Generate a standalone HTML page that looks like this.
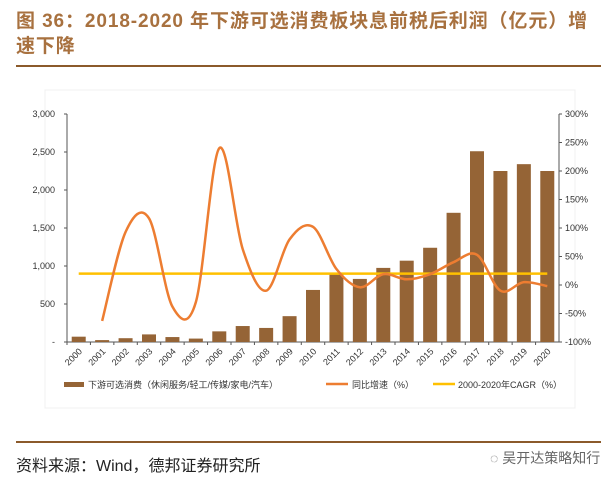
<!DOCTYPE html>
<html><head><meta charset="utf-8"><style>
body{margin:0;width:611px;height:479px;background:#fff;position:relative;overflow:hidden;font-family:"Liberation Sans","Noto Sans CJK SC",sans-serif}
.title{position:absolute;left:16px;top:9px;width:600px;font-size:19px;font-weight:bold;color:#a8713f;line-height:25px;letter-spacing:0.9px;white-space:nowrap}
.rule{position:absolute;left:16px;width:585px;height:2px;background:#8b5a2b}
.src{position:absolute;left:16px;top:452px;font-size:16px;color:#222}
.wm{position:absolute;left:490px;top:448px;font-size:14px;color:#666}
</style></head><body>
<div class="title">图 36：2018-2020 年下游可选消费板块息前税后利润（亿元）增<br>速下降</div>
<div class="rule" style="top:65px"></div>
<svg id="c" width="611" height="479" style="position:absolute;left:0;top:0"></svg>
<div class="rule" style="top:441px"></div>
<div class="src">资料来源：Wind，德邦证券研究所</div>
<div class="wm">◌ 吴开达策略知行</div>
<script>
const years=["2000","2001","2002","2003","2004","2005","2006","2007","2008","2009","2010","2011","2012","2013","2014","2015","2016","2017","2018","2019","2020"];
const profit=[70,25,50,100,65,45,140,210,185,340,685,900,830,975,1070,1240,1700,2510,2250,2340,2250];
const growth=[null,-63,93,117,-38,-30,240,63,-10,80,102,28,-4,19,10,19,40,53,-10,5,-2];
const cagr=20;
const leftTicks=[0,500,1000,1500,2000,2500,3000];
const leftLabels=["-","500","1,000","1,500","2,000","2,500","3,000"];
const rightTicks=[-100,-50,0,50,100,150,200,250,300];
const NS="http://www.w3.org/2000/svg";
const svg=document.getElementById('c');
const X0=67,X1=559,Y0=342,Y1=114;
const bw=(X1-X0)/years.length;
const xc=i=>X0+bw*(i+0.5);
const yl=v=>Y0-(v/3000)*(Y0-Y1);
const yr=v=>Y0-((v+100)/400)*(Y0-Y1);
function mk(t,a,txt){const e=document.createElementNS(NS,t);for(const k in a)e.setAttribute(k,a[k]);if(txt!=null)e.textContent=txt;svg.appendChild(e);return e;}
let e;
e=mk('rect',{x:45,y:90,width:530,height:318,fill:'none',stroke:'#f0f0f0'});


e=mk('line',{x1:X0,y1:Y1,x2:X0,y2:Y0,stroke:'#555'});


e=mk('line',{x1:X1,y1:Y1,x2:X1,y2:Y0,stroke:'#555'});


e=mk('line',{x1:X0,y1:Y0,x2:X1,y2:Y0,stroke:'#555'});


leftTicks.forEach((v,i)=>{
 mk('line',{x1:X0-3,y1:yl(v),x2:X0,y2:yl(v),stroke:'#555'});
 e=mk('text',{x:X0-12,y:yl(v)+3,'text-anchor':'end','font-size':9,fill:'#333'},leftLabels[i]);
 
 
});
rightTicks.forEach(v=>{
 mk('line',{x1:X1,y1:yr(v),x2:X1+3,y2:yr(v),stroke:'#555'});
 e=mk('text',{x:X1+6,y:yr(v)+3,'font-size':9,fill:'#333'},v+'%');
 
 
});
years.forEach((y,i)=>{
 mk('line',{x1:X0+bw*i,y1:Y0,x2:X0+bw*i,y2:Y0+3,stroke:'#555'});
 e=mk('rect',{x:xc(i)-7,y:yl(profit[i]),width:14,height:Y0-yl(profit[i]),fill:'#956436'});
 
 
 e=mk('text',{x:xc(i)+4,y:Y0+10,'text-anchor':'end','font-size':9,fill:'#333',transform:`rotate(-45 ${xc(i)+4} ${Y0+10})`},y);
 
 
});
const pts=[];growth.forEach((g,i)=>{if(g!==null)pts.push([xc(i),yr(g)]);});
let d='M'+pts[0][0]+','+pts[0][1];
for(let i=0;i<pts.length-1;i++){
 const p0=pts[Math.max(0,i-1)],p1=pts[i],p2=pts[i+1],p3=pts[Math.min(pts.length-1,i+2)];
 const t=1/6;
 d+=` C${p1[0]+(p2[0]-p0[0])*t},${p1[1]+(p2[1]-p0[1])*t} ${p2[0]-(p3[0]-p1[0])*t},${p2[1]-(p3[1]-p1[1])*t} ${p2[0]},${p2[1]}`;
}
e=mk('line',{x1:xc(0),y1:yr(cagr),x2:xc(years.length-1),y2:yr(cagr),stroke:'#ffc000','stroke-width':2.5});


e=mk('path',{d:d,fill:'none',stroke:'#ed7d31','stroke-width':2.5});


e=mk('rect',{x:64,y:382,width:20,height:5,fill:'#956436'});


e=mk('text',{x:88,y:388,'font-size':9,fill:'#333'},'下游可选消费（休闲服务/轻工/传媒/家电/汽车）');


e=mk('line',{x1:326,y1:384,x2:348,y2:384,stroke:'#ed7d31','stroke-width':2.5});


e=mk('text',{x:352,y:388,'font-size':9,fill:'#333'},'同比增速（%）');


e=mk('line',{x1:433,y1:384,x2:455,y2:384,stroke:'#ffc000','stroke-width':2.5});


e=mk('text',{x:458,y:388,'font-size':9,fill:'#333'},'2000-2020年CAGR（%）');


</script>
</body></html>
